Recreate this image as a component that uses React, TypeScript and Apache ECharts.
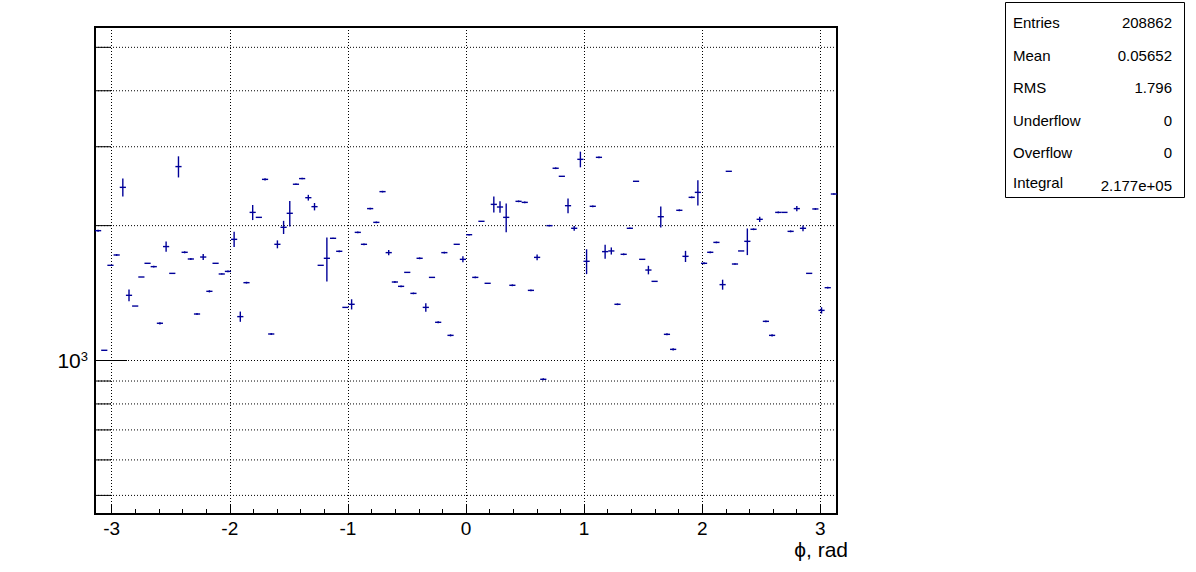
import React, { useEffect, useRef } from 'react';
import * as echarts from 'echarts';

const X_MIN = -Math.PI;
const X_MAX = Math.PI;
const Y_MIN = 454.4;
const Y_MAX = 5551;
const N_BINS = 120;

// bin contents (phi histogram, 120 bins from -pi to pi)
const counts = [
  1949, 1054, 1631, 1720, 2435, 1398, 1323, 1536, 1648, 1620,
  1211, 1796, 1565, 2709, 1744, 1685, 1270, 1702, 1427, 1648,
  1560, 1581, 1864, 1253, 1492, 2141, 2087, 2537, 1146, 1817,
  1983, 2131, 2474, 2547, 2309, 2205, 1631, 1691, 1874, 1753,
  1314, 1335, 1932, 1817, 2183, 2034, 2382, 1741, 1497, 1464,
  1573, 1412, 1691, 1314, 1533, 1217, 1741, 1138, 1817, 1682,
  1909, 1533, 2045, 1487, 2231, 2201, 2087, 1472, 2266, 2254,
  1434, 1699, 908, 2000, 2686, 2577, 2216, 1973, 2812, 1665,
  2209, 2841, 1750, 1756, 1335, 1726, 1973, 2512, 1682, 1592,
  1502, 2094, 1144, 1059, 2164, 1708, 2313, 2373, 1648, 1744,
  1835, 1477, 2644, 1642, 1756, 1845, 1963, 2066, 1223, 1138,
  2141, 2141, 1942, 2183, 1973, 1565, 2179, 1294, 1454, 2353,
];

const errors = [
  10, 0, 0, 8, 113, 42, 0, 0, 0, 8,
  7, 47, 0, 147, 9, 8, 6, 26, 8, 0,
  5, 8, 73, 33, 7, 83, 0, 15, 6, 37,
  67, 139, 10, 10, 34, 42, 0, 191, 6, 8,
  0, 35, 9, 8, 10, 9, 10, 24, 7, 7,
  0, 6, 8, 29, 0, 6, 8, 6, 0, 26,
  8, 7, 0, 0, 92, 65, 154, 7, 10, 10,
  7, 25, 5, 8, 12, 0, 84, 24, 113, 106,
  10, 12, 63, 32, 6, 8, 8, 0, 0, 35,
  0, 114, 6, 6, 10, 49, 10, 154, 8, 8,
  8, 38, 0, 7, 0, 126, 9, 28, 6, 6,
  9, 0, 9, 30, 29, 0, 10, 21, 7, 10,
];

const yTickValues = [500, 600, 700, 800, 900, 1000, 2000, 3000, 4000, 5000];
const yMajorTicks = [1000];

const statsLabels = ['Entries', 'Mean', 'RMS', 'Underflow', 'Overflow', 'Integral'];
const statsValues = ['208862', '0.05652', '1.796', '0', '0', '2.177e+05'];

const xTitle = 'ϕ, rad';

const FONT = '"Liberation Sans", Arial, Helvetica, sans-serif';
const MARK_COLOR = '#000099';

export default function App() {
  const ref = useRef<HTMLDivElement>(null);

  useEffect(() => {
    if (!ref.current) return;
    const chart = echarts.init(ref.current, undefined, { renderer: 'svg' });
    const w = (X_MAX - X_MIN) / N_BINS;
    const binData = counts.map((c, i) => [X_MIN + i * w, X_MIN + (i + 1) * w, c, errors[i]]);
    const tickData = yTickValues.map((v) => [X_MIN, v]);

    const statRows = [22, 55, 87, 120, 152, 183];
    const graphics: any[] = [
      {
        type: 'rect',
        shape: { x: 1005.5, y: 2.5, width: 179, height: 195 },
        style: { fill: '#fff', stroke: '#000', lineWidth: 1 },
        z: 10,
      },
    ];
    statsLabels.forEach((lab, i) => {
      graphics.push({
        type: 'text',
        x: 1013,
        y: statRows[i] - (i === 5 ? 1 : 0),
        style: { text: lab, font: `15px ${FONT}`, fill: '#000', textAlign: 'left', textVerticalAlign: 'middle' },
        z: 11,
      });
      graphics.push({
        type: 'text',
        x: 1172,
        y: statRows[i] + (i === 5 ? 2 : 0),
        style: { text: statsValues[i], font: `15px ${FONT}`, fill: '#000', textAlign: 'right', textVerticalAlign: 'middle' },
        z: 11,
      });
    });
    graphics.push({
      type: 'text',
      x: 848,
      y: 549,
      style: { text: xTitle, font: `21px ${FONT}`, fill: '#000', textAlign: 'right', textVerticalAlign: 'middle' },
      z: 11,
    });

    const option: any = {
      animation: false,
      backgroundColor: '#fff',
      grid: {
        left: 95,
        right: 359,
        top: 27,
        bottom: 58,
        show: true,
        borderColor: '#000',
        borderWidth: 2,
        backgroundColor: 'transparent',
        outerBoundsMode: 'none',
      },
      xAxis: {
        type: 'value',
        min: X_MIN,
        max: X_MAX,
        minInterval: 1,
        maxInterval: 1,
        axisLine: { show: true, onZero: false, lineStyle: { color: '#000', width: 2 } },
        axisTick: { show: true, inside: true, length: 10, lineStyle: { color: '#000', width: 1 } },
        minorTick: { show: true, splitNumber: 5, length: 5, lineStyle: { color: '#000', width: 1 } },
        splitLine: { show: true, lineStyle: { color: '#000', width: 1, type: [1, 2] } },
        minorSplitLine: { show: false },
        axisLabel: {
          show: true,
          showMinLabel: false,
          showMaxLabel: false,
          margin: 5,
          color: '#000',
          fontSize: 19,
          fontFamily: FONT,
          formatter: (v: number) => (Math.abs(v - Math.round(v)) < 1e-9 ? String(Math.round(v)) : ''),
        },
      },
      yAxis: {
        type: 'log',
        logBase: 10,
        min: Y_MIN,
        max: Y_MAX,
        axisLine: { show: true, onZero: false, lineStyle: { color: '#000', width: 2 } },
        axisTick: { show: false },
        minorTick: { show: false },
        splitLine: { show: false },
        axisLabel: {
          show: true,
          showMinLabel: false,
          showMaxLabel: false,
          margin: 7,
          color: '#000',
          fontSize: 21,
          fontFamily: FONT,
          formatter: (v: number) => (Math.abs(v - 1000) < 0.5 ? '10{sup|3}' : ''),
          rich: {
            sup: { fontSize: 13, fontFamily: FONT, color: '#000', verticalAlign: 'top', padding: [0, 0, 6, 0] },
          },
        },
      },
      graphic: graphics,
      series: [
        {
          type: 'custom',
          name: 'yticks',
          silent: true,
          z: 1,
          clip: false,
          data: tickData,
          encode: { x: 0, y: 1 },
          renderItem: (params: any, api: any) => {
            const v = api.value(1);
            const p = api.coord([X_MIN, v]);
            const q = api.coord([X_MAX, v]);
            const len = yMajorTicks.indexOf(v) >= 0 ? 32 : 16;
            return {
              type: 'group',
              children: [
                {
                  type: 'line',
                  shape: { x1: p[0], y1: p[1], x2: q[0], y2: q[1] },
                  style: { stroke: '#000', lineWidth: 1, lineDash: [1, 2] },
                },
                {
                  type: 'line',
                  shape: { x1: p[0], y1: p[1], x2: p[0] + len, y2: p[1] },
                  style: { stroke: '#000', lineWidth: 1 },
                },
              ],
            };
          },
        },
        {
          type: 'custom',
          name: 'phi',
          silent: true,
          z: 3,
          clip: false,
          data: binData,
          encode: { x: [0, 1], y: [2, 3] },
          renderItem: (params: any, api: any) => {
            const lo = api.value(0);
            const hi = api.value(1);
            const y = api.value(2);
            const e = api.value(3);
            const c = (lo + hi) / 2;
            const pL = api.coord([lo, y]);
            const pR = api.coord([hi, y]);
            const style = { stroke: MARK_COLOR, lineWidth: 1.4 };
            const children: any[] = [
              { type: 'line', shape: { x1: pL[0], y1: pL[1], x2: pR[0], y2: pR[1] }, style },
            ];
            if (e > 0) {
              const pT = api.coord([c, y + e]);
              const pB = api.coord([c, y - e]);
              children.push({ type: 'line', shape: { x1: pT[0], y1: pT[1], x2: pB[0], y2: pB[1] }, style });
            }
            return { type: 'group', children };
          },
        },
      ],
    };

    chart.setOption(option);
    return () => chart.dispose();
  }, []);

  return (
    <div
      ref={ref}
      style={{ position: 'absolute', left: 0, top: 0, width: 1196, height: 572, background: '#fff' }}
    />
  );
}
